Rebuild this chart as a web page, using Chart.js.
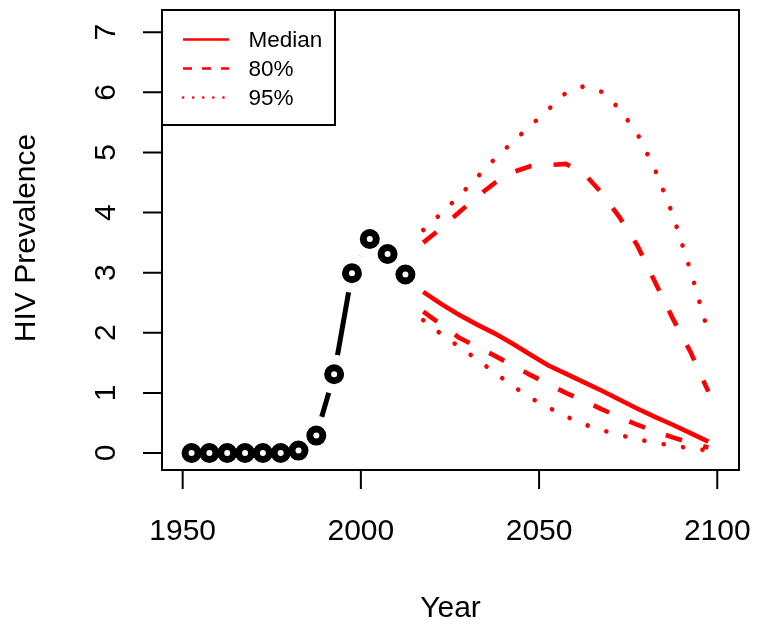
<!DOCTYPE html>
<html>
<head>
<meta charset="utf-8">
<title>HIV Prevalence</title>
<script src="https://cdn.jsdelivr.net/npm/chart.js@4.4.0/dist/chart.umd.min.js"></script>
<style>
  html, body { margin: 0; padding: 0; background: #fff; }
  canvas { display: block; }
</style>
</head>
<body>
<canvas id="hiv-chart" width="775" height="624"></canvas>
<script>
// Observed prevalence (black circles)
const obsYears = [1952.5, 1957.5, 1962.5, 1967.5, 1972.5, 1977.5, 1982.5, 1987.5, 1992.5, 1997.5, 2002.5, 2007.5, 2012.5];
const obsValues = [0, 0, 0, 0, 0, 0, 0.04, 0.29, 1.31, 2.99, 3.56, 3.31, 2.97];

// Projection (red lines)
const projYears = [2017.5, 2022.5, 2027.5, 2032.5, 2037.5, 2042.5, 2047.5, 2052.5, 2057.5, 2062.5, 2067.5, 2072.5, 2077.5, 2082.5, 2087.5, 2092.5, 2097.5];
const median = [2.68, 2.48, 2.30, 2.14, 1.99, 1.82, 1.64, 1.46, 1.32, 1.18, 1.04, 0.89, 0.74, 0.60, 0.47, 0.33, 0.19];
const upper80 = [3.50, 3.74, 4.00, 4.26, 4.49, 4.67, 4.77, 4.79, 4.81, 4.66, 4.33, 3.93, 3.46, 2.85, 2.24, 1.68, 1.02];
const lower80 = [2.35, 2.14, 1.92, 1.77, 1.62, 1.46, 1.30, 1.15, 1.00, 0.87, 0.73, 0.60, 0.47, 0.36, 0.26, 0.17, 0.09];
const upper95 = [3.71, 3.98, 4.27, 4.58, 4.89, 5.17, 5.44, 5.71, 5.99, 6.10, 6.01, 5.73, 5.32, 4.72, 3.97, 3.03, 2.00];
const lower95 = [2.21, 1.98, 1.77, 1.56, 1.34, 1.12, 0.92, 0.76, 0.61, 0.48, 0.38, 0.30, 0.23, 0.17, 0.12, 0.08, 0.04];

// Axes
const xTicks = [1950, 2000, 2050, 2100];
const yTicks = [0, 1, 2, 3, 4, 5, 6, 7];
const xTitle = 'Year';
const yTitle = 'HIV Prevalence';
const legendLabels = ['Median', '80%', '95%'];

const FONT = '"Liberation Sans", Arial, Helvetica, sans-serif';
const RED = '#ff0000';
const DOTS = [0.1, 19.5];
const DASHES = [17, 22];

const toXY = (xs, ys) => xs.map((x, i) => ({ x, y: ys[i] }));

const redLine = (label, data, dash) => ({
  label,
  data: toXY(projYears, data),
  borderColor: RED,
  borderWidth: 4.6,
  borderDash: dash,
  borderCapStyle: dash === DOTS ? 'round' : 'butt',
  pointRadius: 0,
  order: 3,
});

// R-style box, axes, titles and legend
const rAxes = {
  id: 'rAxes',
  afterDraw(c) {
    const { ctx, chartArea: a } = c;
    const { x, y } = c.scales;
    ctx.save();
    ctx.strokeStyle = '#000';
    ctx.fillStyle = '#000';
    ctx.lineWidth = 2;
    ctx.setLineDash([]);
    ctx.strokeRect(a.left, a.top, a.right - a.left, a.bottom - a.top);

    ctx.beginPath();
    for (const v of xTicks) {
      const px = x.getPixelForValue(v);
      ctx.moveTo(px, a.bottom);
      ctx.lineTo(px, a.bottom + 19);
    }
    for (const v of yTicks) {
      const py = y.getPixelForValue(v);
      ctx.moveTo(a.left, py);
      ctx.lineTo(a.left - 19, py);
    }
    ctx.stroke();

    ctx.font = `30px ${FONT}`;
    ctx.textAlign = 'center';
    ctx.textBaseline = 'alphabetic';
    for (const v of xTicks) {
      ctx.fillText(String(v), x.getPixelForValue(v), a.bottom + 70);
    }
    for (const v of yTicks) {
      ctx.save();
      ctx.translate(a.left - 47, y.getPixelForValue(v));
      ctx.rotate(-Math.PI / 2);
      ctx.fillText(String(v), 0, 0);
      ctx.restore();
    }
    ctx.fillText(xTitle, (a.left + a.right) / 2, 617);
    ctx.save();
    ctx.translate(35, 238);
    ctx.rotate(-Math.PI / 2);
    ctx.fillText(yTitle, 0, 0);
    ctx.restore();

    // legend
    const lx = a.left;
    const ly = a.top;
    ctx.fillStyle = '#fff';
    ctx.fillRect(lx, ly, 173, 115);
    ctx.strokeRect(lx, ly, 173, 115);
    const dashes = [[], [9, 10], [0.1, 10]];
    const caps = ['butt', 'butt', 'round'];
    ctx.strokeStyle = RED;
    ctx.lineWidth = 2.6;
    legendLabels.forEach((t, i) => {
      const yy = ly + 29.5 + i * 29;
      ctx.beginPath();
      ctx.setLineDash(dashes[i]);
      ctx.lineCap = caps[i];
      ctx.moveTo(lx + 21, yy);
      ctx.lineTo(lx + 67, yy);
      ctx.stroke();
    });
    ctx.setLineDash([]);
    ctx.fillStyle = '#000';
    ctx.font = `22.5px ${FONT}`;
    ctx.textAlign = 'left';
    legendLabels.forEach((t, i) => {
      ctx.fillText(t, lx + 86.5, ly + 37 + i * 29);
    });
    ctx.restore();
  },
};

// eslint-disable-next-line no-undef
const chart = new Chart(document.getElementById('hiv-chart'), {
  type: 'line',
  data: {
    datasets: [
      {
        label: 'observed',
        data: toXY(obsYears, obsValues),
        borderColor: '#000',
        borderWidth: 5,
        pointRadius: 0,
        order: 2,
      },
      {
        label: 'gap',
        data: toXY(obsYears, obsValues),
        showLine: false,
        pointRadius: 19.5,
        pointBackgroundColor: '#fff',
        pointBorderWidth: 0,
        pointBorderColor: '#fff',
        order: 1,
      },
      {
        label: 'points',
        data: toXY(obsYears, obsValues),
        showLine: false,
        pointRadius: 6.5,
        pointBackgroundColor: '#fff',
        pointBorderColor: '#000',
        pointBorderWidth: 7,
        order: 0,
      },
      redLine('Median', median, []),
      redLine('80% upper', upper80, DASHES),
      redLine('80% lower', lower80, DASHES),
      redLine('95% upper', upper95, DOTS),
      redLine('95% lower', lower95, DOTS),
    ],
  },
  options: {
    responsive: false,
    animation: false,
    devicePixelRatio: 1,
    layout: {
      autoPadding: false,
      padding: { left: 162, right: 36, top: 10, bottom: 154 },
    },
    plugins: {
      legend: { display: false },
      tooltip: { enabled: false },
    },
    scales: {
      x: { type: 'linear', min: 1944.2, max: 2106.1, display: false },
      y: { type: 'linear', min: -0.283, max: 7.37, display: false },
    },
  },
  plugins: [rAxes],
});
</script>
</body>
</html>
